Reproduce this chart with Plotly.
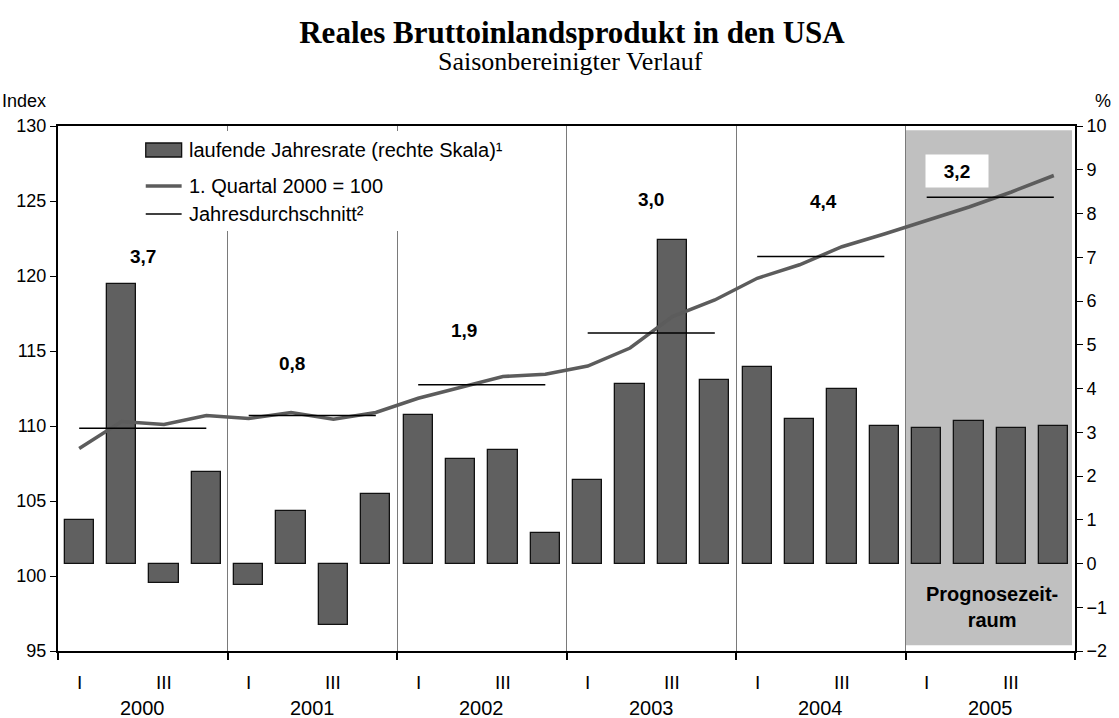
import plotly.graph_objects as go

# quarterly data 2000-2005
years = [2000, 2001, 2002, 2003, 2004, 2005]
quarter_names = ["I", "II", "III", "IV"]

# laufende Jahresrate in % (right scale)
rate = [1.0, 6.4, -0.45, 2.1,
        -0.5, 1.2, -1.4, 1.6,
        3.4, 2.4, 2.6, 0.7,
        1.9, 4.1, 7.4, 4.2,
        4.5, 3.3, 4.0, 3.15,
        3.1, 3.25, 3.1, 3.15]

# Index, 1. Quartal 2000 = 100 (left scale)
index_level = [108.5, 110.3, 110.1, 110.7,
               110.5, 110.9, 110.45, 110.9,
               111.85, 112.55, 113.3, 113.45,
               114.0, 115.2, 117.3, 118.4,
               119.85, 120.75, 121.95, 122.8,
               123.7, 124.6, 125.6, 126.7]

# Jahresdurchschnitt of the index
annual_avg = [109.85, 110.7, 112.75, 116.2, 121.3, 125.25]
annual_growth = ["3,7", "0,8", "1,9", "3,0", "4,4", "3,2"]

FONT = "Arial, Liberation Sans, sans-serif"
SERIF = "Times New Roman, Liberation Serif, serif"
BAR_GREY = "#606060"
LINE_GREY = "#5c5c5c"

xpos = list(range(len(rate)))

# annual average segments from Q1 to Q4 of each year
avg_x, avg_y = [], []
for i, v in enumerate(annual_avg):
    avg_x += [4 * i, 4 * i + 3, None]
    avg_y += [v, v, None]

fig = go.Figure()

fig.add_trace(go.Bar(
    x=xpos, y=rate, yaxis="y", width=0.69,
    marker=dict(color=BAR_GREY, line=dict(color="#111111", width=1.3)),
    name="laufende Jahresrate (rechte Skala)¹", showlegend=False
))
fig.add_trace(go.Scatter(
    x=xpos, y=index_level, yaxis="y2", mode="lines",
    line=dict(color=LINE_GREY, width=3.5),
    name="1. Quartal 2000 = 100", showlegend=False
))
fig.add_trace(go.Scatter(
    x=avg_x, y=avg_y, yaxis="y2", mode="lines",
    line=dict(color="#000000", width=1.4),
    name="Jahresdurchschnitt²", showlegend=False
))

annotations = []

# growth labels per year (position offsets)
label_dx = [0.0, -0.47, -0.42, 0.0, 0.07, -0.79]
label_y = [121.3, 114.2, 116.4, 125.1, 125.0, 127.0]
for i, txt in enumerate(annual_growth):
    ann = dict(x=4 * i + 1.5 + label_dx[i], y=label_y[i], xref="x", yref="y2",
               text="<b>%s</b>" % txt, showarrow=False,
               font=dict(family=FONT, size=19, color="#000"))
    if i == len(annual_growth) - 1:
        ann.update(bgcolor="#ffffff", width=60, height=30)
    annotations.append(ann)

# quarter and year labels below the axis
for i, y in enumerate(years):
    for q in (0, 2):
        annotations.append(dict(x=4 * i + q, y=0, xref="x", yref="paper", yshift=-31,
                                yanchor="middle", text=quarter_names[q], showarrow=False,
                                font=dict(family=FONT, size=19, color="#000")))
    annotations.append(dict(x=4 * i + 1.5, y=0, xref="x", yref="paper", yshift=-57,
                            yanchor="middle", text=str(y), showarrow=False,
                            font=dict(family=FONT, size=20, color="#000")))

# axis captions
annotations.append(dict(x=-58 / 1020, y=(651 - 101) / 525, xref="paper", yref="paper",
                        text="Index", showarrow=False, xanchor="left", yanchor="middle",
                        font=dict(family=FONT, size=18, color="#000")))
annotations.append(dict(x=(1106 - 58) / 1020, y=(651 - 101) / 525, xref="paper", yref="paper",
                        text="%", showarrow=False, xanchor="center", yanchor="middle",
                        font=dict(family=FONT, size=18, color="#000")))

# forecast period
annotations.append(dict(x=21.55, y=-1.0, xref="x", yref="y",
                        text="<b>Prognosezeit-<br>raum</b>", showarrow=False,
                        font=dict(family=FONT, size=20, color="#000")))

# subtitle
annotations.append(dict(x=(572 - 58) / 1020, y=(651 - 62) / 525, xref="paper", yref="paper",
                        text="Saisonbereinigter Verlauf", showarrow=False, yanchor="middle",
                        font=dict(family=SERIF, size=26, color="#000")))

# manual legend
leg_x0 = (146 - 58) / 1020
leg_x1 = (182 - 58) / 1020
leg_tx = (187 - 58) / 1020
rows = [(651 - 150) / 525, (651 - 186) / 525, (651 - 214) / 525]
legend_texts = ["laufende Jahresrate (rechte Skala)¹", "1. Quartal 2000 = 100", "Jahresdurchschnitt²"]
for yy, t in zip(rows, legend_texts):
    annotations.append(dict(x=leg_tx, y=yy, xref="paper", yref="paper", text=t,
                            showarrow=False, xanchor="left", yanchor="middle",
                            font=dict(family=FONT, size=20, color="#000")))

shapes = [
    # shaded forecast region
    dict(type="rect", xref="x", yref="paper", x0=19.5, x1=23.43, y0=0.011, y1=0.992,
         fillcolor="#c0c0c0", line=dict(width=0), layer="below"),
    # legend background
    dict(type="rect", xref="paper", yref="paper", x0=(138 - 58) / 1020, x1=(548 - 58) / 1020,
         y0=(651 - 231) / 525, y1=(651 - 131) / 525, fillcolor="#ffffff", line=dict(width=0),
         layer="above"),
    dict(type="rect", xref="paper", yref="paper", x0=leg_x0, x1=leg_x1,
         y0=rows[0] - 7 / 525, y1=rows[0] + 7 / 525, fillcolor=BAR_GREY,
         line=dict(color="#111111", width=1.3), layer="above"),
    dict(type="line", xref="paper", yref="paper", x0=leg_x0, x1=leg_x1, y0=rows[1], y1=rows[1],
         line=dict(color=LINE_GREY, width=3.5), layer="above"),
    dict(type="line", xref="paper", yref="paper", x0=leg_x0, x1=leg_x1, y0=rows[2], y1=rows[2],
         line=dict(color="#000000", width=1.4), layer="above"),
]

year_bounds = [4 * i - 0.5 for i in range(len(years) + 1)]

fig.update_layout(
    width=1119, height=718,
    margin=dict(l=58, r=41, t=126, b=67),
    paper_bgcolor="#ffffff", plot_bgcolor="#ffffff",
    showlegend=False, bargap=0,
    title=dict(text="<b>Reales Bruttoinlandsprodukt in den USA</b>",
               x=572 / 1119, xanchor="center", y=1 - 32 / 718, yanchor="middle",
               font=dict(family=SERIF, size=31, color="#000")),
    xaxis=dict(range=[-0.5, 23.5], tickmode="array", tickvals=year_bounds,
               showticklabels=False, ticks="outside", ticklen=7, tickwidth=1.5, tickcolor="#000",
               showgrid=True, gridcolor="#7a7a7a", gridwidth=1,
               showline=True, linecolor="#000", linewidth=2, mirror=True, zeroline=False),
    yaxis=dict(range=[-2, 10], dtick=1, side="right", showgrid=False, zeroline=False,
               showline=True, linecolor="#000", linewidth=2, ticks="outside", ticklen=6,
               tickcolor="#000", tickfont=dict(family=FONT, size=18, color="#000")),
    yaxis2=dict(range=[95, 130], dtick=5, side="left", overlaying="y", showgrid=False,
                zeroline=False, showline=True, linecolor="#000", linewidth=2, ticks="outside",
                ticklen=6, tickcolor="#000", tickfont=dict(family=FONT, size=18, color="#000")),
    annotations=annotations,
    shapes=shapes,
)

fig.write_html("out.html", config={"displayModeBar": False},
               post_script="document.body.style.margin='0px';")
